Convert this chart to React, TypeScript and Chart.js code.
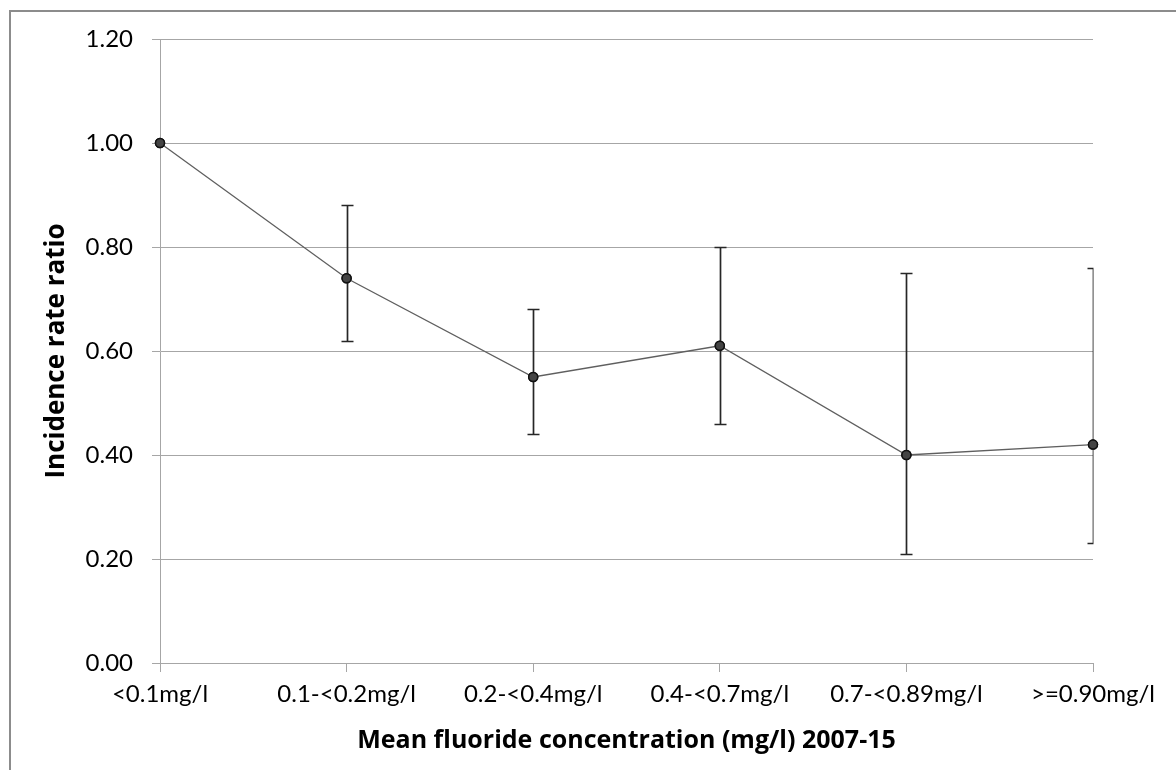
import React, { useEffect, useRef } from "react";
import { Chart, registerables } from "chart.js";

Chart.register(...registerables);

const categories = ["<0.1mg/l", "0.1-<0.2mg/l", "0.2-<0.4mg/l", "0.4-<0.7mg/l", "0.7-<0.89mg/l", ">=0.90mg/l"];
const ratios = [1.0, 0.74, 0.55, 0.61, 0.4, 0.42];
const lowerCI: (number | null)[] = [null, 0.62, 0.44, 0.46, 0.21, 0.23];
const upperCI: (number | null)[] = [null, 0.88, 0.68, 0.8, 0.75, 0.76];
const xTitle = "Mean fluoride concentration (mg/l) 2007-15";
const yTitle = "Incidence rate ratio";

const errorBarPlugin = {
  id: "errorBars",
  afterDatasetsDraw(chart: any) {
    const { ctx, chartArea, scales } = chart;
    const xs = scales.x;
    const ys = scales.y;
    ctx.save();
    ctx.beginPath();
    ctx.rect(chartArea.left, chartArea.top, chartArea.right - chartArea.left + 0.5, chartArea.bottom - chartArea.top);
    ctx.clip();
    ctx.strokeStyle = "#262626";
    ctx.lineWidth = 1.7;
    const cap = 6;
    for (let i = 0; i < categories.length; i++) {
      const lo = lowerCI[i];
      const hi = upperCI[i];
      if (lo == null || hi == null) continue;
      const x = Math.round(xs.getPixelForValue(i)) + 0.5;
      const yl = Math.round(ys.getPixelForValue(lo)) + 0.5;
      const yh = Math.round(ys.getPixelForValue(hi)) + 0.5;
      ctx.beginPath();
      ctx.moveTo(x, yl);
      ctx.lineTo(x, yh);
      ctx.moveTo(x - cap, yl);
      ctx.lineTo(x + cap, yl);
      ctx.moveTo(x - cap, yh);
      ctx.lineTo(x + cap, yh);
      ctx.stroke();
    }
    ctx.restore();
    const meta = chart.getDatasetMeta(0);
    meta.data.forEach((el: any) => el.draw(ctx, chartArea));
  },
};

export default function App() {
  const ref = useRef<HTMLCanvasElement | null>(null);
  useEffect(() => {
    if (!ref.current) return;
    const chart = new Chart(ref.current, {
      type: "line",
      data: {
        labels: categories,
        datasets: [
          {
            data: ratios,
            borderColor: "#5f5f5f",
            borderWidth: 1.3,
            pointRadius: 4.5,
            pointBackgroundColor: "#444444",
            pointBorderColor: "#111111",
            pointBorderWidth: 1.5,
            tension: 0,
          },
        ],
      },
      plugins: [errorBarPlugin],
      options: {
        animation: false,
        responsive: false,
        layout: { padding: { left: 0, top: 39, right: 83, bottom: 0 } },
        plugins: { legend: { display: false }, tooltip: { enabled: false } },
        scales: {
          x: {
            offset: false,
            grid: { drawOnChartArea: false, drawTicks: true, tickLength: 9, color: "#a6a6a6", lineWidth: 1 },
            border: { color: "#a6a6a6", width: 1 },
            ticks: { color: "#000", padding: 8, font: { family: "Lato", size: 24 }, maxRotation: 0, autoSkip: false },
            title: {
              display: true,
              text: xTitle,
              color: "#000",
              font: { family: "Open Sans", size: 25, weight: "bold" },
              padding: { top: 0, bottom: 14 },
            },
            afterFit(scale: any) {
              scale.height = 107;
            },
          },
          y: {
            min: 0,
            max: 1.2,
            ticks: {
              stepSize: 0.2,
              color: "#000",
              padding: 19,
              font: { family: "Lato", size: 24 },
              callback: (v: any) => Number(v).toFixed(2),
            },
            grid: { color: "#a6a6a6", lineWidth: 1, tickLength: 8 },
            border: { color: "#a6a6a6", width: 1 },
            title: {
              display: true,
              text: yTitle,
              color: "#000",
              font: { family: "Open Sans", size: 26, weight: "bold" },
              padding: { top: 41, bottom: 0 },
            },
            afterFit(scale: any) {
              scale.width = 160;
            },
          },
        },
      },
    });
    return () => chart.destroy();
  }, []);
  return (
    <div style={{ position: "absolute", left: 0, top: 0, width: 1176, height: 770, overflow: "hidden", background: "#fff" }}>
      <div
        style={{
          position: "absolute",
          left: 9,
          top: 10,
          width: 1200,
          height: 800,
          border: "2px solid #8c8c8c",
          boxSizing: "border-box",
        }}
      />
      <canvas ref={ref} width={1176} height={770} style={{ position: "absolute", left: 0, top: 0 }} />
    </div>
  );
}
